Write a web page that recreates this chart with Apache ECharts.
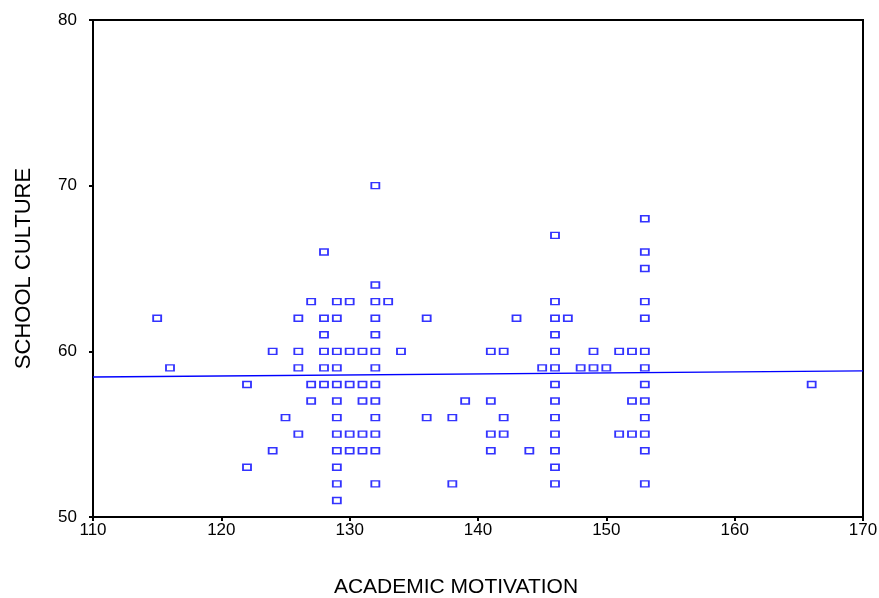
<!DOCTYPE html>
<html>
<head>
<meta charset="utf-8">
<script src="https://cdn.jsdelivr.net/npm/echarts@6/dist/echarts.min.js"></script>
<style>
  html, body { margin: 0; padding: 0; background: #fff; }
  #main { width: 879px; height: 598px; }
</style>
</head>
<body>
<div id="main"></div>
<script>
// scatter: academic motivation vs school culture
var academicMotivation = [
  115, 116, 122, 122, 124, 124, 125,
  126, 126, 126, 126,
  127, 127, 127,
  128, 128, 128, 128, 128, 128,
  129, 129, 129, 129, 129, 129, 129, 129, 129, 129, 129, 129,
  130, 130, 130, 130, 130,
  131, 131, 131, 131, 131,
  132, 132, 132, 132, 132, 132, 132, 132, 132, 132, 132, 132, 132,
  133, 134, 136, 136, 138, 138, 139,
  141, 141, 141, 141,
  142, 142, 142,
  143, 144, 145,
  146, 146, 146, 146, 146, 146, 146, 146, 146, 146, 146, 146, 146,
  147, 148, 149, 149, 150, 151, 151, 152, 152, 152,
  153, 153, 153, 153, 153, 153, 153, 153, 153, 153, 153, 153, 153,
  166
];
var schoolCulture = [
  62, 59, 58, 53, 60, 54, 56,
  62, 60, 59, 55,
  63, 58, 57,
  66, 62, 61, 60, 59, 58,
  63, 62, 60, 59, 58, 57, 56, 55, 54, 53, 52, 51,
  63, 60, 58, 55, 54,
  60, 58, 57, 55, 54,
  70, 64, 63, 62, 61, 60, 59, 58, 57, 56, 55, 54, 52,
  63, 60, 62, 56, 56, 52, 57,
  60, 57, 55, 54,
  60, 56, 55,
  62, 54, 59,
  67, 63, 62, 61, 60, 59, 58, 57, 56, 55, 54, 53, 52,
  62, 59, 60, 59, 59, 60, 55, 60, 57, 55,
  68, 66, 65, 63, 62, 60, 59, 58, 57, 56, 55, 54, 52,
  58
];
// fit line ends
var fitX = [110, 170];
var fitY = [58.45, 58.82];
var xTicks = [110, 170, 10];
var yTicks = [50, 80, 10];

var points = academicMotivation.map(function (x, i) { return [x, schoolCulture[i]]; });
var fit = fitX.map(function (x, i) { return [x, fitY[i]]; });

var font = 'Liberation Sans, Arial, sans-serif';
var myChart = echarts.init(document.getElementById('main'));
var option = {
  animation: false,
  grid: {
    left: 93, right: 16, top: 20, bottom: 81,
    outerBoundsMode: 'none',
    show: true, borderColor: '#000', borderWidth: 2
  },
  xAxis: {
    type: 'value',
    min: xTicks[0], max: xTicks[1], interval: xTicks[2],
    name: 'ACADEMIC MOTIVATION',
    nameLocation: 'middle',
    nameGap: 60,
    // title sits a little left of the axis centre in the original
    nameTextStyle: { fontFamily: font, fontSize: 21, color: '#000', padding: [0, 44, 0, 0] },
    axisLine: { lineStyle: { color: '#000', width: 2 } },
    axisTick: { show: true, length: 4, lineStyle: { color: '#000', width: 2 } },
    axisLabel: { fontFamily: font, fontSize: 17, color: '#000', margin: 5 },
    splitLine: { show: false }
  },
  yAxis: {
    type: 'value',
    min: yTicks[0], max: yTicks[1], interval: yTicks[2],
    name: 'SCHOOL CULTURE',
    nameLocation: 'middle',
    nameGap: 58,
    nameTextStyle: { fontFamily: font, fontSize: 22, color: '#000' },
    axisLine: { lineStyle: { color: '#000', width: 2 } },
    axisTick: { show: true, length: 4, lineStyle: { color: '#000', width: 2 } },
    axisLabel: { fontFamily: font, fontSize: 17, color: '#000', margin: 16 },
    splitLine: { show: false }
  },
  series: [
    {
      type: 'scatter',
      data: points,
      symbol: 'rect',
      symbolSize: [8, 6],
      itemStyle: { color: '#fff', borderColor: '#0000ff', borderWidth: 1.6 }
    },
    {
      type: 'line',
      data: fit,
      showSymbol: false,
      lineStyle: { color: '#0000ff', width: 1.3 },
      z: 1
    }
  ]
};
myChart.setOption(option);
</script>
</body>
</html>
